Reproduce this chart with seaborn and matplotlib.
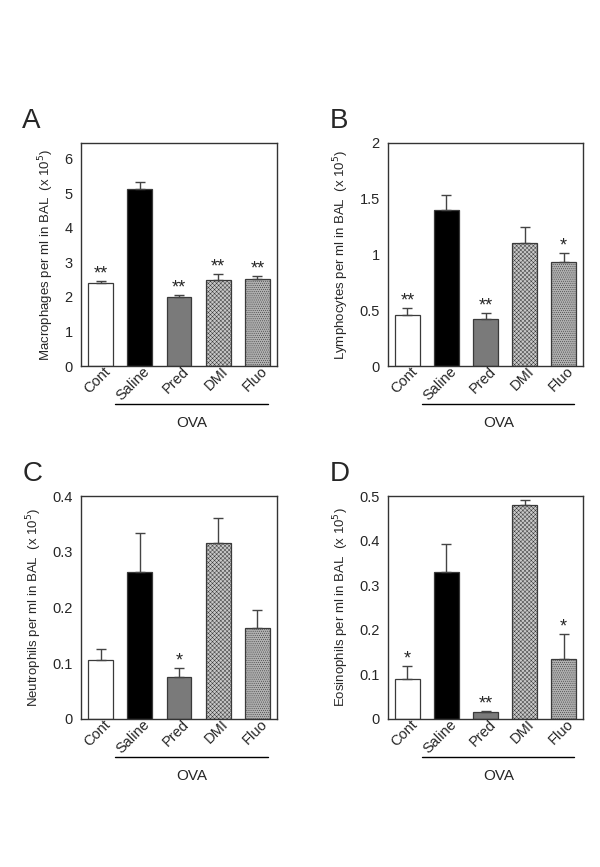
import numpy as np
import matplotlib
matplotlib.use('Agg')
import matplotlib.pyplot as plt
import seaborn as sns

sns.set_style('white')
plt.rcParams['font.family'] = ['Liberation Sans', 'DejaVu Sans']
plt.rcParams['hatch.linewidth'] = 0.35
plt.rcParams['hatch.color'] = '#444444'

groups = ['Cont', 'Saline', 'Pred', 'DMI', 'Fluo']

macro = [2.40, 5.11, 2.01, 2.50, 2.53]
macro_err = [0.05, 0.22, 0.05, 0.15, 0.07]
macro_stars = ['**', '', '**', '**', '**']

lympho = [0.453, 1.397, 0.426, 1.106, 0.935]
lympho_err = [0.063, 0.141, 0.045, 0.144, 0.082]
lympho_stars = ['**', '', '**', '', '*']

neutro = [0.105, 0.264, 0.075, 0.315, 0.164]
neutro_err = [0.021, 0.070, 0.017, 0.045, 0.031]
neutro_stars = ['', '', '*', '', '']

eosino = [0.089, 0.329, 0.015, 0.479, 0.134]
eosino_err = [0.029, 0.064, 0.002, 0.013, 0.057]
eosino_stars = ['*', '', '**', '', '*']

colors = ['white', 'black', '#7a7a7a', '#c8c8c8', '#b0b0b0']
hatches = ['', '', '', 'xxxxxxxx', '........']

W, H = 600, 867
fig = plt.figure(figsize=(W / 100, H / 100), dpi=100)


def px_axes(x0, x1, ytop, ybot):
    return fig.add_axes([x0 / W, (H - ybot) / H, (x1 - x0) / W, (ybot - ytop) / H])


def panel(ax, vals, errs, stars, ylim, yticks, yticklabels, ylabel, letter):
    sns.barplot(x=groups, y=vals, hue=groups, palette=colors, legend=False,
                width=0.63, edgecolor='#3a3a3a', linewidth=0.9, ax=ax)
    for p, h in zip(ax.patches, hatches):
        p.set_hatch(h)
    x = np.arange(len(groups))
    ax.errorbar(x, vals, yerr=[np.zeros(len(vals)), errs], fmt='none',
                ecolor='#444444', elinewidth=1.0, capsize=3.5, capthick=1.0)
    for xi, v, e, s in zip(x, vals, errs, stars):
        if s:
            ax.annotate(s, (xi, v + e), xytext=(0, -1), textcoords='offset points',
                        ha='center', va='bottom', fontsize=13)
    ax.set_xlim(-0.5, 4.5)
    ax.set_ylim(*ylim)
    ax.set_yticks(yticks)
    ax.set_yticklabels(yticklabels, fontsize=10.5)
    ax.set_xticks(x)
    ax.set_xticklabels(groups, rotation=45, ha='right', rotation_mode='anchor',
                       fontsize=10.5)
    ax.tick_params(axis='y', direction='out', length=4, width=1, color='#333333', pad=2)
    ax.tick_params(axis='x', length=0, pad=1)
    shift = matplotlib.transforms.ScaledTranslation(0.03, 0.03, fig.dpi_scale_trans)
    for lab in ax.get_xticklabels():
        lab.set_transform(lab.get_transform() + shift)
    for sp in ax.spines.values():
        sp.set_color('#333333')
        sp.set_linewidth(1.0)
    ax.set_xlabel('')
    ax.set_ylabel(ylabel, fontsize=9.5, labelpad=6)
    tr = matplotlib.transforms.blended_transform_factory(ax.transData, ax.transAxes)
    ax.plot([0.38, 4.28], [-0.172, -0.172], color='black', lw=1.0,
            transform=tr, clip_on=False)
    ax.text(2.33, -0.255, 'OVA', transform=tr, ha='center', va='center', fontsize=11)
    ax.text(-0.30, 1.04, letter, transform=ax.transAxes, ha='left',
            va='bottom', fontsize=20)


axA = px_axes(81, 277, 143, 366)
panel(axA, macro, macro_err, macro_stars, (0, 6.45), range(7),
      [str(i) for i in range(7)], 'Macrophages per ml in BAL  (x 10$^5$)', 'A')

axB = px_axes(388, 583, 143, 366)
panel(axB, lympho, lympho_err, lympho_stars, (0, 2), [0, 0.5, 1, 1.5, 2],
      ['0', '0.5', '1', '1.5', '2'], 'Lymphocytes per ml in BAL  (x 10$^5$)', 'B')

axC = px_axes(81, 277, 496, 719)
panel(axC, neutro, neutro_err, neutro_stars, (0, 0.4), [0, 0.1, 0.2, 0.3, 0.4],
      ['0', '0.1', '0.2', '0.3', '0.4'], 'Neutrophils per ml in BAL  (x 10$^5$)', 'C')

axD = px_axes(388, 583, 496, 719)
panel(axD, eosino, eosino_err, eosino_stars, (0, 0.5), [0, 0.1, 0.2, 0.3, 0.4, 0.5],
      ['0', '0.1', '0.2', '0.3', '0.4', '0.5'], 'Eosinophils per ml in BAL  (x 10$^5$)', 'D')

fig.savefig('out.png', dpi=100)
